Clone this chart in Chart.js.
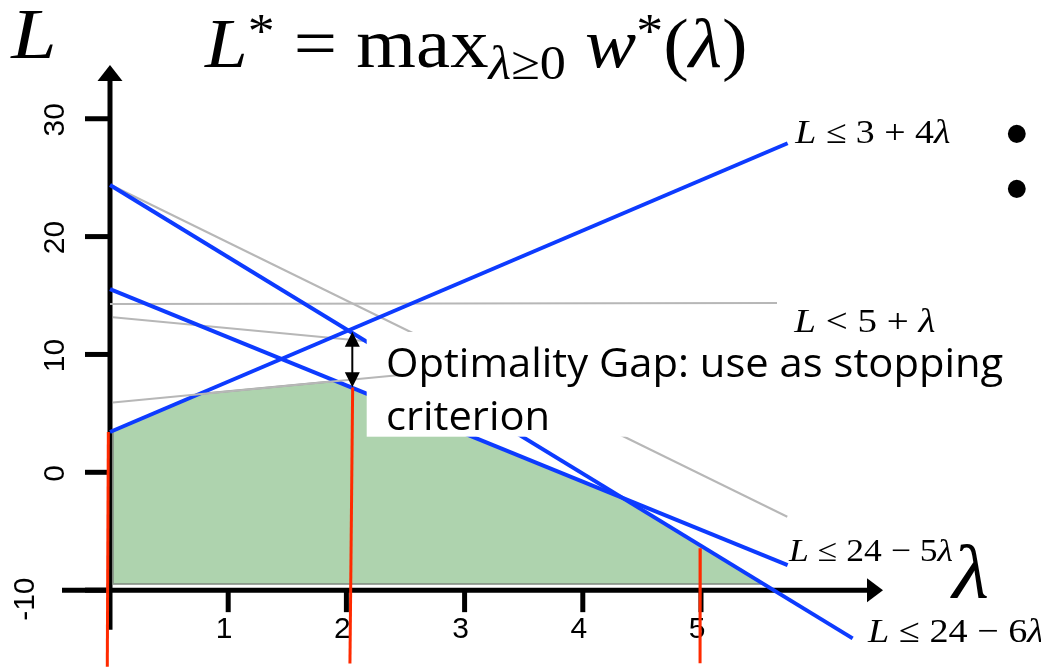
<!DOCTYPE html>
<html>
<head>
<meta charset="utf-8">
<script src="https://cdn.jsdelivr.net/npm/chart.js@4.4.1/dist/chart.umd.min.js"></script>
<style>
  html, body { margin: 0; padding: 0; background: #fff; overflow: hidden; }
  #wrap { width: 1041px; height: 667px; }
</style>
</head>
<body>
<div id="wrap"><canvas id="c" width="1041" height="667"></canvas></div>
<script>
// ---- data: bound lines as [lambda, L] end points ----
const cutUp      = [[0.000, 3.42], [5.733, 27.92]];   // L <= 3 + 4 lambda
const cutMid     = [[0.000, 15.55], [5.733, -7.87]];  // L <= 24 - 5 lambda
const cutSteep   = [[0.000, 24.38], [6.283, -14.09]]; // L <= 24 - 6 lambda
const oldFlat    = [[0.000, 14.28], [5.643, 14.37]];
const oldSteep   = [[0.008, 24.38], [5.730, -3.77]];
const oldFalling = [[0.025, 13.15], [4.990, 8.44]];
const oldRising  = [[0.025, 5.92], [2.453, 8.26]];
// feasible region under the dual function w*(lambda)
const dualRegion = [[0.025, 3.53], [0.752, 6.64], [1.913, 7.74], [4.334, -2.155],
                    [5.531, -9.478], [0.025, -9.478], [0.025, 3.53]];
// lambda iterates (vertical red markers)
const iterate0 = [[-0.014, 3.42], [-0.023, -16.5]];
const iterate1 = [[2.053, 7.19], [2.030, -16.23]];
const iterate2 = [[4.994, -6.45], [4.992, -16.21]];
// optimality gap: [lambda, lower L, upper L]
const gapAt = [2.05, 7.21, 11.93];
// axes
const xTicks = [1, 2, 3, 4, 5];
const yTicks = [-10, 0, 10, 20, 30];
const xAxisSpan = [-0.406, 6.54];
const yAxisSpan = [-13.36, 34.56];

const BLUE = '#0d3bff', GRAY = '#b7b7b7', RED = '#ff2a00', GREEN = 'rgb(174,211,174)';
const SERIF = '"Liberation Serif", "DejaVu Serif", serif';
const SANS = '"Liberation Sans", Arial, sans-serif';
const BOXFONT = '"Open Sans", "Liberation Sans", sans-serif';

const toXY = pts => pts.map(([x, y]) => ({ x, y }));
function seg(label, pts, color, width, order) {
  return {
    label, data: toXY(pts), borderColor: color, borderWidth: width,
    pointRadius: 0, pointHoverRadius: 0, fill: false, tension: 0,
    borderCapStyle: 'butt', order
  };
}

// ---- text helpers ----
function runFont(r, size, family) {
  return (r.it ? 'italic ' : '') + (size * (r.s || 1)).toFixed(2) + 'px ' + family;
}
function drawRuns(ctx, runs, size, family, left, right, baseline, fixedSx) {
  let pen = 0;
  const items = [];
  for (const r of runs) {
    ctx.font = runFont(r, size, family);
    const m = ctx.measureText(r.t);
    items.push({ r, x: pen, m });
    pen += m.width;
  }
  const first = items[0], last = items[items.length - 1];
  const inkL = first.x - first.m.actualBoundingBoxLeft;
  const inkR = last.x + last.m.actualBoundingBoxRight;
  const sx = fixedSx != null ? fixedSx : (right != null ? (right - left) / (inkR - inkL) : 1);
  ctx.save();
  ctx.translate(left - inkL * sx, baseline);
  ctx.scale(sx, 1);
  ctx.textAlign = 'left';
  ctx.textBaseline = 'alphabetic';
  ctx.fillStyle = '#000';
  for (const it of items) {
    ctx.font = runFont(it.r, size, family);
    ctx.fillText(it.r.t, it.x, (it.r.dy || 0) * size);
  }
  ctx.restore();
  return sx;
}

function drawAxes(chart) {
  const { ctx, scales: { x, y } } = chart;
  const ax = x.getPixelForValue(0), ay = y.getPixelForValue(yTicks[0]);
  const yTip = y.getPixelForValue(yAxisSpan[1]), yBottom = y.getPixelForValue(yAxisSpan[0]);
  const xLeft = x.getPixelForValue(xAxisSpan[0]), xTip = x.getPixelForValue(xAxisSpan[1]);
  ctx.save();
  ctx.strokeStyle = '#000';
  ctx.fillStyle = '#000';
  ctx.lineWidth = 5;
  ctx.beginPath(); ctx.moveTo(ax, yBottom); ctx.lineTo(ax, yTip + 14); ctx.stroke();
  ctx.beginPath(); ctx.moveTo(ax, yTip); ctx.lineTo(ax - 12.5, yTip + 16); ctx.lineTo(ax + 12.5, yTip + 16); ctx.closePath(); ctx.fill();
  ctx.beginPath(); ctx.moveTo(xLeft, ay); ctx.lineTo(xTip - 14, ay); ctx.stroke();
  ctx.beginPath(); ctx.moveTo(xTip, ay); ctx.lineTo(xTip - 16, ay - 12); ctx.lineTo(xTip - 16, ay + 12); ctx.closePath(); ctx.fill();
  for (const v of yTicks) {
    const py = y.getPixelForValue(v);
    ctx.beginPath(); ctx.moveTo(ax - 25, py); ctx.lineTo(ax, py); ctx.stroke();
  }
  for (const v of xTicks) {
    const px = x.getPixelForValue(v);
    ctx.beginPath(); ctx.moveTo(px, ay); ctx.lineTo(px, ay + 22); ctx.stroke();
  }
  ctx.font = '30px ' + SANS;
  ctx.textAlign = 'center';
  ctx.textBaseline = 'alphabetic';
  for (const v of xTicks) ctx.fillText(String(v), x.getPixelForValue(v) - 4, ay + 48);
  for (const v of yTicks) {
    const py = y.getPixelForValue(v);
    const atCross = v === yTicks[0];
    ctx.save();
    ctx.translate(atCross ? ax - 76 : ax - 46, atCross ? py + 9 : py + 1);
    ctx.rotate(-Math.PI / 2);
    ctx.fillText(String(v), 0, 0);
    ctx.restore();
  }
  ctx.restore();
}

function drawGap(chart) {
  const { ctx, scales: { x, y } } = chart;
  const px = x.getPixelForValue(gapAt[0]);
  const bot = y.getPixelForValue(gapAt[1]), top = y.getPixelForValue(gapAt[2]);
  ctx.save();
  ctx.strokeStyle = '#000';
  ctx.fillStyle = '#000';
  ctx.lineWidth = 2;
  ctx.beginPath(); ctx.moveTo(px, top + 12); ctx.lineTo(px, bot - 12); ctx.stroke();
  ctx.beginPath(); ctx.moveTo(px, top); ctx.lineTo(px - 7.5, top + 15); ctx.lineTo(px + 7.5, top + 15); ctx.closePath(); ctx.fill();
  ctx.beginPath(); ctx.moveTo(px, bot); ctx.lineTo(px - 7.5, bot - 15); ctx.lineTo(px + 7.5, bot - 15); ctx.closePath(); ctx.fill();
  ctx.restore();
}

function drawNoteBox(chart) {
  const ctx = chart.ctx;
  ctx.save();
  ctx.fillStyle = '#fff';
  ctx.fillRect(366.7, 332, 1010 - 366.7, 436.7 - 332);
  ctx.restore();
}

function drawTexts(chart) {
  const ctx = chart.ctx;
  // axis names
  drawRuns(ctx, [{ t: 'L', it: 1 }], 72, SERIF, 10, 53, 58);
  drawRuns(ctx, [{ t: 'λ', it: 1 }], 76, SERIF, 950, 988, 598);
  // title
  drawRuns(ctx, [
    { t: 'L', it: 1 }, { t: '*', s: 0.7, dy: -0.28 }, { t: ' = ' }, { t: 'max' },
    { t: 'λ', it: 1, s: 0.68, dy: 0.17 }, { t: '≥0', s: 0.68, dy: 0.17 }, { t: ' ' },
    { t: 'w', it: 1 }, { t: '*', s: 0.7, dy: -0.28 }, { t: '(' }, { t: 'λ', it: 1 }, { t: ')' }
  ], 70, SERIF, 204, 745, 66.7);
  // line labels
  drawRuns(ctx, [{ t: 'L', it: 1 }, { t: ' ≤ 3 + 4' }, { t: 'λ', it: 1 }], 33, SERIF, 794, 950, 142.7);
  drawRuns(ctx, [{ t: 'L', it: 1 }, { t: ' < 5 + ' }, { t: 'λ', it: 1 }], 33, SERIF, 793, 935, 332);
  drawRuns(ctx, [{ t: 'L', it: 1 }, { t: ' ≤ 24 − 5' }, { t: 'λ', it: 1 }], 32, SERIF, 788, 953, 561);
  drawRuns(ctx, [{ t: 'L', it: 1 }, { t: ' ≤ 24 − 6' }, { t: 'λ', it: 1 }], 34, SERIF, 867, 1043, 641.7);
  // note
  const sx = drawRuns(ctx, [{ t: 'Optimality Gap: use as stopping' }], 41, BOXFONT, 388, 1003, 377);
  drawRuns(ctx, [{ t: 'criterion' }], 41, BOXFONT, 388, null, 430, sx);
  // bullets
  ctx.save();
  ctx.fillStyle = '#000';
  ctx.font = '66px ' + SANS;
  const m = ctx.measureText('•');
  const cxOff = (m.actualBoundingBoxRight - m.actualBoundingBoxLeft) / 2;
  const cyOff = (m.actualBoundingBoxAscent - m.actualBoundingBoxDescent) / 2;
  ctx.textAlign = 'left';
  ctx.textBaseline = 'alphabetic';
  for (const [bx, by] of [[1016.7, 133.3], [1016.7, 188.3]]) ctx.fillText('•', bx - cxOff, by + cyOff);
  ctx.restore();
}

const overlay = {
  id: 'overlay',
  beforeDatasetsDraw(chart) { drawAxes(chart); },
  beforeDatasetDraw(chart, args) {
    if (chart.data.datasets[args.index].label === 'earlier rising cut') drawNoteBox(chart);
  },
  afterDatasetsDraw(chart) { drawGap(chart); drawTexts(chart); }
};

new Chart(document.getElementById('c'), {
  type: 'line',
  data: {
    datasets: [
      seg('earlier rising cut', oldRising, GRAY, 2, 1),
      seg('iterate 0', iterate0, RED, 3, 2),
      seg('iterate 1', iterate1, RED, 3, 2),
      seg('iterate 2', iterate2, RED, 3, 2),
      seg('L <= 3 + 4 lambda', cutUp, BLUE, 4, 3),
      seg('L <= 24 - 5 lambda', cutMid, BLUE, 4, 3),
      seg('L <= 24 - 6 lambda', cutSteep, BLUE, 4, 3),
      seg('earlier flat cut', oldFlat, GRAY, 2, 4),
      seg('earlier steep cut', oldSteep, GRAY, 2, 4),
      seg('earlier falling cut', oldFalling, GRAY, 2, 4),
      {
        label: 'w*(lambda) region', data: toXY(dualRegion),
        borderColor: 'rgba(125,135,125,0.75)', borderWidth: 2,
        backgroundColor: GREEN, fill: 'shape', pointRadius: 0, tension: 0, order: 10
      }
    ]
  },
  options: {
    responsive: false,
    maintainAspectRatio: false,
    devicePixelRatio: 1,
    animation: false,
    events: [],
    layout: { padding: 0 },
    scales: {
      x: { type: 'linear', min: -0.9306, max: 7.8765, display: false },
      y: { type: 'linear', min: -16.521, max: 40.076, display: false }
    },
    plugins: { legend: { display: false }, tooltip: { enabled: false } }
  },
  plugins: [overlay]
});
</script>
</body>
</html>
